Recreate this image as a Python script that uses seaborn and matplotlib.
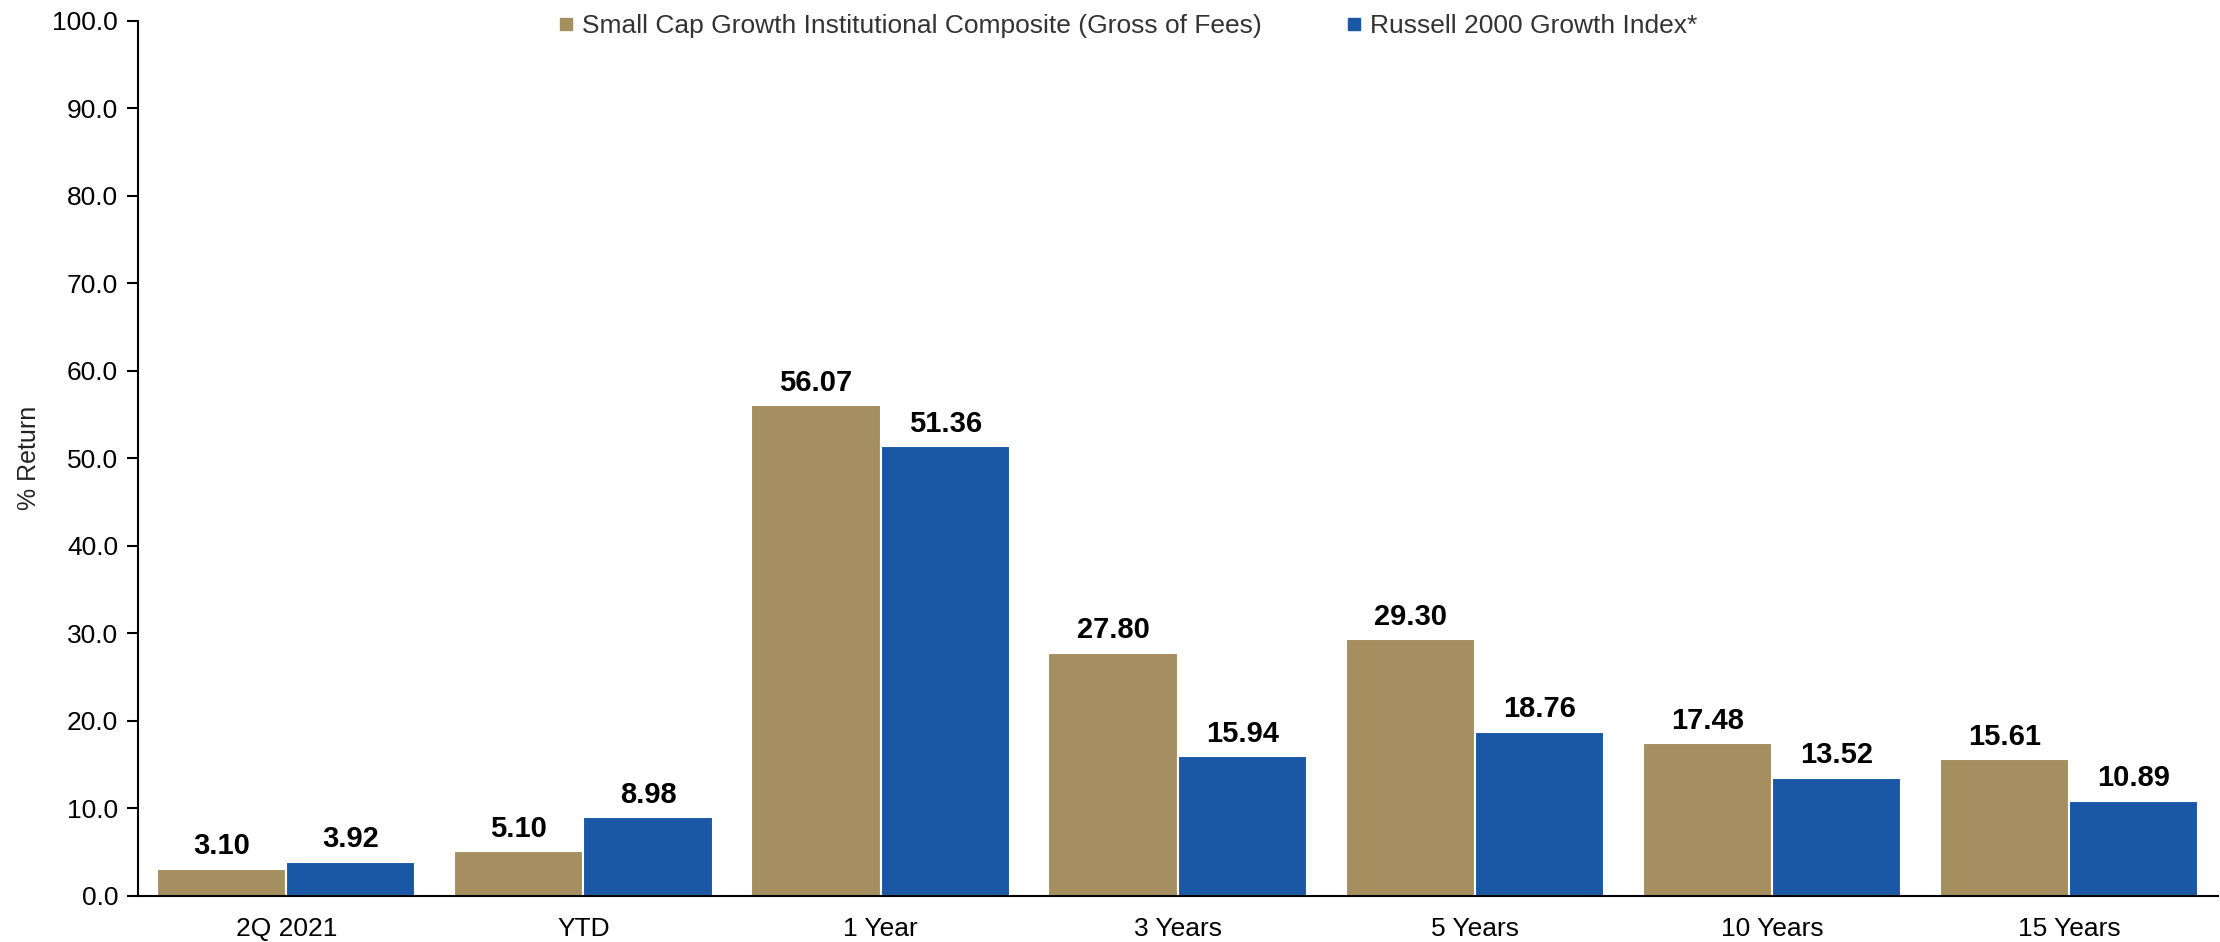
import matplotlib
matplotlib.use("Agg")
import matplotlib.pyplot as plt
from matplotlib.lines import Line2D
import pandas as pd
import seaborn as sns

periods = ["2Q 2021", "YTD", "1 Year", "3 Years", "5 Years", "10 Years", "15 Years"]
composite = [3.10, 5.10, 56.07, 27.80, 29.30, 17.48, 15.61]
index_vals = [3.92, 8.98, 51.36, 15.94, 18.76, 13.52, 10.89]
series_names = ["Small Cap Growth Institutional Composite (Gross of Fees)",
                "Russell 2000 Growth Index*"]
colors = ["#A58F60", "#1A58A6"]
y_ticks = [0, 10, 20, 30, 40, 50, 60, 70, 80, 90, 100]

df = pd.DataFrame({
    "period": periods * 2,
    "value": composite + index_vals,
    "series": [series_names[0]] * len(periods) + [series_names[1]] * len(periods),
})

sns.set_style("white")
plt.rcParams["font.family"] = ["Liberation Sans", "DejaVu Sans"]

fig = plt.figure(figsize=(22.2, 9.42), dpi=100)
ax = fig.add_axes([0.062, 0.049, 0.937, 0.929])

sns.barplot(data=df, x="period", y="value", hue="series", order=periods,
            hue_order=series_names, palette=colors, saturation=1, width=0.87,
            edgecolor="white", linewidth=1.5, ax=ax)

for cont in ax.containers:
    ax.bar_label(cont, fmt="%.2f", padding=6, fontsize=21, fontweight="bold",
                 color="black")

ax.set_ylim(0, 100)
ax.set_xlim(-0.5, len(periods) - 0.5)
ax.set_yticks(y_ticks)
ax.set_yticklabels([f"{t:.1f}" for t in y_ticks])
ax.tick_params(axis="y", which="both", left=True, length=8, width=1.5,
               labelsize=19, pad=6, colors="black")
ax.tick_params(axis="x", bottom=False, labelsize=19, pad=12, colors="black")
ax.set_xlabel("")
ax.set_ylabel("% Return", fontsize=18, labelpad=8, color="#222222")

sns.despine(ax=ax)
for side in ["left", "bottom"]:
    ax.spines[side].set_color("black")
    ax.spines[side].set_linewidth(1.5)

handles = [Line2D([0], [0], marker="s", linestyle="", markersize=8,
                  markerfacecolor=c, markeredgecolor=c) for c in colors]
ax.legend(handles, series_names, loc="upper center", bbox_to_anchor=(0.476, 1.035),
          ncol=2, frameon=False, fontsize=19, handlelength=0.6, handletextpad=0.3,
          columnspacing=3.2, labelcolor="#333333")

fig.savefig("out.png", dpi=100)
